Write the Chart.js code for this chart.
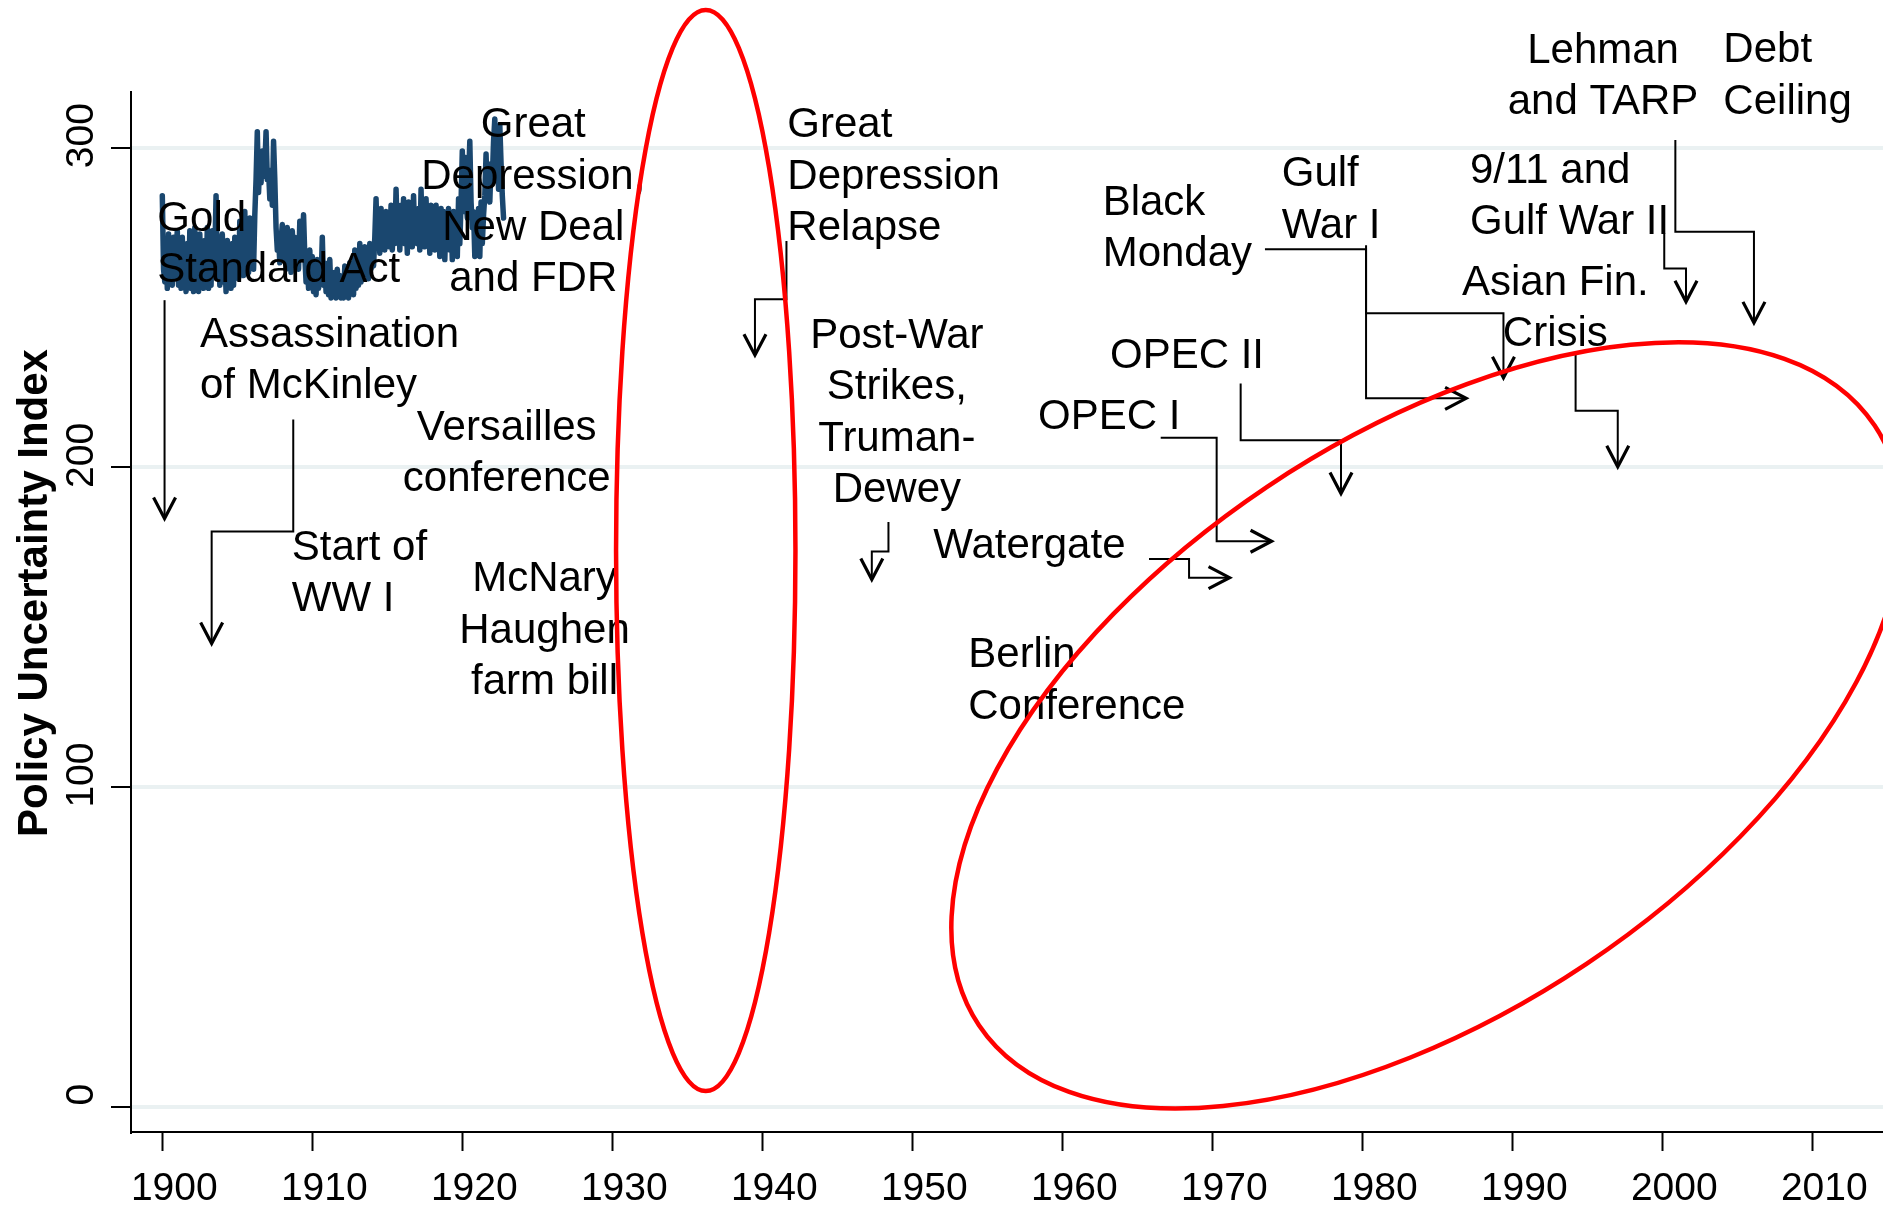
<!DOCTYPE html>
<html>
<head>
<meta charset="utf-8">
<script src="https://cdn.jsdelivr.net/npm/chart.js@4.4.1/dist/chart.umd.min.js"></script>
<style>
  html, body { margin: 0; padding: 0; background: #fff; }
  canvas { display: block; }
</style>
</head>
<body>
<canvas id="epu" width="1883" height="1210"></canvas>
<script>
// monthly index, Jan 1900 onwards
var startYear = 1900;
var epu = [
  285, 262, 258, 270, 256, 273, 258, 266, 257, 272, 259, 268,
  274, 257, 265, 256, 272, 258, 263, 255, 270, 257, 274, 256,
  266, 255, 275, 258, 268, 255, 273, 257, 264, 256, 271, 258,
  275, 256, 268, 257, 274, 260, 266, 285, 262, 271, 257, 269,
  273, 258, 266, 255, 271, 259, 264, 256, 270, 257, 272, 260,
  268, 259, 277, 262, 273, 260, 280, 264, 275, 261, 278, 263,
  276, 262, 279, 290, 305, 286, 296, 289, 299, 291, 294, 305,
  290, 293, 284, 291, 282, 302, 290, 275, 268, 272, 264, 271,
  276, 265, 271, 262, 275, 266, 270, 261, 274, 264, 272, 263,
  271, 262, 277, 265, 270, 279, 266, 258, 264, 256, 268, 257,
  266, 255, 262, 254, 265, 256, 263, 258, 272, 257, 264, 255,
  262, 254, 265, 253, 259, 256, 261, 253, 262, 255, 260, 253,
  258, 253, 263, 255, 261, 253, 264, 256, 262, 254, 268, 256,
  266, 257, 270, 258, 264, 260, 269, 262, 265, 259, 270, 262,
  268, 263, 272, 284, 270, 278, 267, 281, 270, 276, 268, 280,
  271, 279, 269, 282, 268, 277, 270, 287, 273, 280, 268, 282,
  272, 284, 270, 279, 267, 283, 271, 280, 269, 285, 272, 278,
  270, 281, 268, 287, 272, 280, 269, 284, 271, 279, 267, 282,
  273, 280, 268, 282, 270, 279, 266, 281, 269, 280, 265, 279,
  270, 281, 268, 279, 265, 280, 270, 278, 266, 284, 270, 283,
  299, 280, 297, 284, 278, 290, 302, 283, 275, 280, 266, 278,
  268, 281, 266, 283, 270, 279, 285, 298, 284, 292, 283, 295,
  290, 302, 309, 292, 300, 287, 307, 295, 285, 278
];

var xTicks = [1900, 1910, 1920, 1930, 1940, 1950, 1960, 1970, 1980, 1990, 2000, 2010];
var yTicks = [0, 100, 200, 300];

// event labels, anchored at (year, index) of the first line
var notes = [
  { lines: ['Gold', 'Standard Act'], x: 1899.67, y: 278.6, align: 'left' },
  { lines: ['Assassination', 'of McKinley'], x: 1902.51, y: 242.2, align: 'left' },
  { lines: ['Versailles', 'conference'], x: 1922.96, y: 213.2, align: 'center' },
  { lines: ['Start of', 'WW I'], x: 1908.63, y: 175.7, align: 'left' },
  { lines: ['McNary', 'Haughen', 'farm bill'], x: 1925.48, y: 165.8, align: 'center' },
  { lines: ['Great', 'Depression,', 'New Deal', 'and FDR'], x: 1924.73, y: 307.8, align: 'center' },
  { lines: ['Great', 'Depression', 'Relapse'], x: 1941.67, y: 307.8, align: 'left' },
  { lines: ['Post-War', 'Strikes,', 'Truman-', 'Dewey'], x: 1948.97, y: 241.9, align: 'center' },
  { lines: ['Watergate'], x: 1951.40, y: 176.2, align: 'left' },
  { lines: ['Berlin', 'Conference'], x: 1953.73, y: 142.0, align: 'left' },
  { lines: ['Black', 'Monday'], x: 1962.69, y: 283.6, align: 'left' },
  { lines: ['Gulf', 'War I'], x: 1974.63, y: 292.5, align: 'left' },
  { lines: ['OPEC II'], x: 1963.18, y: 235.6, align: 'left' },
  { lines: ['OPEC I'], x: 1958.38, y: 216.5, align: 'left' },
  { lines: ['9/11 and', 'Gulf War II'], x: 1987.18, y: 293.6, align: 'left' },
  { lines: ['Asian Fin.', 'Crisis'], x: 1992.87, y: 258.6, align: 'center' },
  { lines: ['Lehman', 'and TARP'], x: 1996.05, y: 331.2, align: 'center' },
  { lines: ['Debt', 'Ceiling'], x: 2004.07, y: 331.3, align: 'left' }
];

// connector paths, last point is the arrow tip
var arrows = [
  [[1900.15, 252.3], [1900.15, 184.0]],
  [[1908.73, 215.0], [1908.73, 179.9], [1903.29, 179.9], [1903.29, 144.9]],
  [[1941.61, 270.8], [1941.61, 252.6], [1939.51, 252.6], [1939.51, 235.1]],
  [[1948.41, 182.9], [1948.41, 173.7], [1947.30, 173.7], [1947.30, 164.9]],
  [[1965.78, 171.3], [1968.45, 171.3], [1968.45, 165.5], [1971.15, 165.5]],
  [[1966.56, 209.3], [1970.29, 209.3], [1970.29, 176.9], [1973.95, 176.9]],
  [[1971.89, 226.2], [1971.89, 208.5], [1978.58, 208.5], [1978.58, 191.8]],
  [[1973.51, 268.2], [1980.25, 268.2], [1980.25, 221.6], [1986.92, 221.6]],
  [[1980.25, 269.5], [1980.25, 248.2], [1989.41, 248.2], [1989.41, 228.0]],
  [[1994.22, 236.1], [1994.22, 217.7], [1997.03, 217.7], [1997.03, 200.2]],
  [[2000.13, 273.2], [2000.13, 262.2], [2001.58, 262.2], [2001.58, 251.8]],
  [[2000.87, 302.4], [2000.87, 273.7], [2006.11, 273.7], [2006.11, 245.2]]
];

// highlight rings: centre (year, index), half sizes (years, index units), tilt in degrees
var rings = [
  { x: 1936.23, y: 174.0, rx: 5.98, ry: 169.1, tilt: 0 },
  { x: 1984.30, y: 119.3, rx: 35.93, ry: 89.8, tilt: -33.8 }
];

var points = epu.map(function (v, i) { return { x: startYear + i / 12, y: v }; });

var FONT = '"Liberation Sans", Arial, sans-serif';

var overlay = {
  id: 'overlay',
  afterDatasetsDraw: function (chart) {
    var ctx = chart.ctx;
    var xs = chart.scales.x, ys = chart.scales.y;
    ctx.save();
    ctx.fillStyle = '#000';

    // y tick labels, turned like Stata
    ctx.font = '39px ' + FONT;
    ctx.textAlign = 'center';
    ctx.textBaseline = 'middle';
    yTicks.forEach(function (v) {
      ctx.save();
      ctx.translate(82, ys.getPixelForValue(v) - 12);
      ctx.rotate(-Math.PI / 2);
      ctx.fillText(String(v), 0, 0);
      ctx.restore();
    });

    // axis title
    ctx.save();
    ctx.font = 'bold 42px ' + FONT;
    ctx.translate(35, 593);
    ctx.rotate(-Math.PI / 2);
    ctx.fillText('Policy Uncertainty Index', 0, 0);
    ctx.restore();

    // labels
    ctx.font = '42px ' + FONT;
    notes.forEach(function (n) {
      ctx.textAlign = n.align;
      var px = xs.getPixelForValue(n.x), py = ys.getPixelForValue(n.y) + 3;
      n.lines.forEach(function (t, i) { ctx.fillText(t, px, py + i * 51.3); });
    });

    // arrows
    ctx.strokeStyle = '#000';
    ctx.lineJoin = 'miter';
    arrows.forEach(function (path) {
      var pts = path.map(function (p) { return [xs.getPixelForValue(p[0]), ys.getPixelForValue(p[1])]; });
      ctx.lineWidth = 2;
      ctx.beginPath();
      pts.forEach(function (p, i) { if (i === 0) ctx.moveTo(p[0], p[1]); else ctx.lineTo(p[0], p[1]); });
      ctx.stroke();
      var a = pts[pts.length - 2], b = pts[pts.length - 1];
      var ang = Math.atan2(b[1] - a[1], b[0] - a[0]);
      var len = 21, half = 11;
      ctx.lineWidth = 3.2;
      ctx.beginPath();
      ctx.moveTo(b[0] - len * Math.cos(ang) + half * Math.sin(ang), b[1] - len * Math.sin(ang) - half * Math.cos(ang));
      ctx.lineTo(b[0], b[1]);
      ctx.lineTo(b[0] - len * Math.cos(ang) - half * Math.sin(ang), b[1] - len * Math.sin(ang) + half * Math.cos(ang));
      ctx.stroke();
    });

    // red rings
    ctx.strokeStyle = '#ff0000';
    ctx.lineWidth = 4.5;
    rings.forEach(function (r) {
      var cx = xs.getPixelForValue(r.x), cy = ys.getPixelForValue(r.y);
      var rxp = Math.abs(xs.getPixelForValue(r.x + r.rx) - cx);
      var ryp = Math.abs(ys.getPixelForValue(r.y + r.ry) - cy);
      ctx.beginPath();
      ctx.ellipse(cx, cy, rxp, ryp, r.tilt * Math.PI / 180, 0, Math.PI * 2);
      ctx.stroke();
    });
    ctx.restore();
  }
};

var ctx = document.getElementById('epu').getContext('2d');
var epuChart = new Chart(ctx, {
  type: 'line',
  data: {
    datasets: [{
      data: points,
      borderColor: '#1a476f',
      borderWidth: 5.5,
      pointRadius: 0,
      tension: 0,
      borderJoinStyle: 'round',
      borderCapStyle: 'round'
    }]
  },
  options: {
    responsive: false,
    animation: false,
    devicePixelRatio: 1,
    layout: { padding: { top: 92, left: 0, right: 0, bottom: 0 } },
    plugins: { legend: { display: false }, tooltip: { enabled: false } },
    scales: {
      x: {
        type: 'linear',
        min: 1897.913,
        max: 2014.713,
        afterFit: function (s) { s.height = 78; },
        afterBuildTicks: function (s) { s.ticks = xTicks.map(function (v) { return { value: v }; }); },
        grid: { drawOnChartArea: false, drawTicks: true, tickLength: 19, tickColor: '#000', tickWidth: 2 },
        border: { color: '#000', width: 2 },
        ticks: {
          color: '#000',
          font: { family: FONT, size: 39 },
          padding: 15,
          labelOffset: 12,
          maxRotation: 0,
          autoSkip: false,
          callback: function (v) { return String(v); }
        }
      },
      y: {
        min: -7.91,
        max: 317.42,
        afterFit: function (s) { s.width = 131; },
        afterBuildTicks: function (s) { s.ticks = yTicks.map(function (v) { return { value: v }; }); },
        grid: { color: '#eaf1f2', lineWidth: 4, tickColor: '#000', tickLength: 20, tickWidth: 2 },
        border: { color: '#000', width: 2 },
        ticks: { display: false }
      }
    }
  },
  plugins: [overlay]
});
</script>
</body>
</html>
